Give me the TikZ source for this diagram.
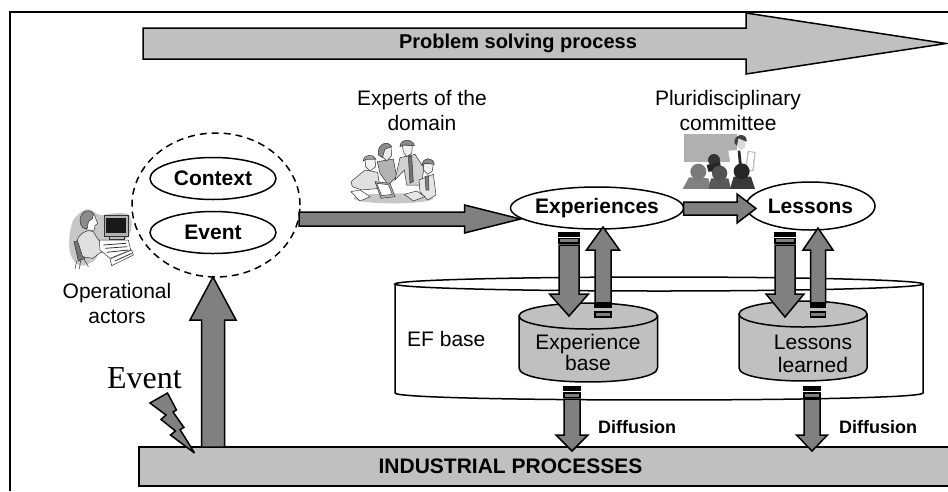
\documentclass[tikz,border=0pt]{standalone}
\usepackage{fontspec}
\setmainfont{Liberation Sans}
\newfontfamily\evfont{Liberation Serif}
\usetikzlibrary{shapes.geometric,calc}
\definecolor{darkfill}{HTML}{808080}
\definecolor{lightfill}{HTML}{C0C0C0}
\tikzset{
  x=1pt,y=-1pt,
  outline/.style={draw=black,line width=1.5pt},
  blockarrow/.style={outline,fill=darkfill},
  oval/.style={ellipse,outline,fill=white,inner sep=0pt,outer sep=0pt,font=\fontsize{21}{25}\selectfont\bfseries},
  reg/.style={inner sep=0pt,align=center,font=\fontsize{21}{25}\selectfont},
  boldlbl/.style={inner sep=0pt,font=\fontsize{18}{22}\selectfont\bfseries},
  sketch/.style={draw=black!80,line width=.5pt},
}
% optional style, tail, tip, half body, half head, head length
\newcommand{\blk}[6][]{%
  \coordinate (hb) at ($(#3)!#6pt!(#2)$);
  \draw[blockarrow,#1] ($(#2)!#4pt!90:(#3)$) -- ($(hb)!#4pt!90:(#3)$) -- ($(hb)!#5pt!90:(#3)$) -- (#3)
    -- ($(hb)!#5pt!-90:(#3)$) -- ($(hb)!#4pt!-90:(#3)$) -- ($(#2)!#4pt!-90:(#3)$) -- cycle;
}
% centre x, half width, black top, black bottom, grey top, grey bottom
\newcommand{\bands}[6]{%
  \fill[black] ({#1-#2-.8},#3) rectangle ({#1+#2+.8},#4);
  \draw[outline,fill=darkfill,line width=1.3pt] ({#1-#2},#5) rectangle ({#1+#2},#6);
}
% x1, x2, y of top centre, y of side bottom, top ry, bottom ry, fill
\newcommand{\cyl}[7]{%
  \draw[outline,fill=#7] (#1,#3) -- (#1,#4)
    .. controls (#1,{#4+#6*1.33}) and (#2,{#4+#6*1.33}) .. (#2,#4) -- (#2,#3) -- cycle;
  \draw[outline,fill=#7] ({(#1+#2)/2},#3) ellipse [x radius={(#2-#1)/2},y radius=#5];
}
\begin{document}
\begin{tikzpicture}
\useasboundingbox (0,0) rectangle (948,491);
\fill[white] (0,0) rectangle (948,491);
% frame
\coordinate (fa) at (10,491); \coordinate (fb) at (10,12); \coordinate (fc) at (948,12);
\draw[line width=1.5pt] (fa) -- (fb) -- (fc);
% top arrow
\coordinate (ta) at (143,43.5); \coordinate (tb) at (946,43.5);
\blk[fill=lightfill]{ta}{tb}{15.5}{30.5}{200}
\node[boldlbl,font=\fontsize{20}{24}\selectfont\bfseries] (psp) at (518,43) {Problem solving process};
% EF base
\cyl{395}{923}{284}{393}{7}{7}{white}
\node[reg,anchor=west] (efb) at (407,339) {EF base};
% inner cylinders
\cyl{519}{657.5}{316}{368}{13}{14}{lightfill}
\cyl{739}{867}{314}{368}{13}{13}{lightfill}
\node[reg,font=\fontsize{21}{21.5}\selectfont] (ebase) at (588,352.5) {Experience\\base};
\node[reg,font=\fontsize{21}{23}\selectfont] (lbase) at (813,353.5) {Lessons\\learned};
% dashed group and ovals
\node[ellipse,draw=black,line width=1.5pt,dash pattern=on 7pt off 5pt,minimum width=168pt,minimum height=144pt,inner sep=0pt,outer sep=0pt] (group) at (216,205) {};
\node[oval,minimum width=126pt,minimum height=42pt] (ctx) at (213,178.5) {\makebox[0pt]{Context}};
\node[oval,minimum width=126pt,minimum height=42pt] (evt) at (213,232.5) {\makebox[0pt]{Event}};
\node[oval,minimum width=173pt,minimum height=42pt] (exp) at (597,208) {\makebox[0pt]{Experiences}};
\node[oval,minimum width=129pt,minimum height=48pt] (les) at (810.5,206) {\makebox[0pt]{Lessons}};
% bar
\node[outline,line width=1.3pt,fill=lightfill,minimum width=810pt,minimum height=39pt,inner sep=0pt,outer sep=0pt] (bar) at (544,466.5) {};
\node[inner sep=0pt,font=\fontsize{21}{25}\selectfont\bfseries] (barlbl) at (510.5,466) {INDUSTRIAL PROCESSES};
% big arrows
\coordinate (ua) at ($(bar.north west)+(74,0)$); \coordinate (ub) at ($(group.south)+(-3,0)$);
\coordinate (ua2) at (ub |- ua);
\blk{ua2}{ub}{11.5}{23}{43}
\coordinate (ma) at ($(group.east)+(-1,14)$); \coordinate (mb) at ($(exp.west)+(10,11)$);
\blk{ma}{mb}{7}{14}{56}
\coordinate (xa) at ($(exp.east)+(0,0.5)$); \coordinate (xb) at ($(les.west)+(10,2.5)$);
\blk{xa}{xb}{6.5}{14.5}{19}
% exchange arrows
\coordinate (d1a) at (569,245); \coordinate (d1b) at (569,316);
\blk{d1a}{d1b}{10}{19.5}{22}
\bands{569}{10}{232}{237}{238.5}{243}
\coordinate (u1a) at (603,303); \coordinate (u1b) at (603,227);
\blk{u1a}{u1b}{8}{16.5}{23}
\bands{603}{8}{302}{307.5}{312}{317}
\coordinate (d2a) at (785,245); \coordinate (d2b) at (785,317);
\blk{d2a}{d2b}{10}{19}{23}
\bands{785}{10}{232}{237}{238.5}{243}
\coordinate (u2a) at (818,303); \coordinate (u2b) at (818,228);
\blk{u2a}{u2b}{7.5}{15}{22}
\bands{818}{7.5}{302}{307.5}{312}{317}
% diffusion
\coordinate (f1a) at (572,399); \coordinate (f1b) at (572,451);
\blk{f1a}{f1b}{8}{16}{16}
\bands{572}{8}{386}{391}{393}{397.5}
\coordinate (f2a) at (812,399); \coordinate (f2b) at (812,451);
\blk{f2a}{f2b}{8}{15.5}{16}
\bands{812}{8}{386}{391}{393}{397.5}
\node[boldlbl,anchor=west] (dif1) at (598,427) {Diffusion};
\node[boldlbl,anchor=west] (dif2) at (839,427) {Diffusion};
% labels
\node[reg] (opa) at (117,303) {Operational\\actors};
\node[reg] (edom) at (422,110.5) {Experts of the\\domain};
\node[reg] (pcom) at (728,110.5) {Pluridisciplinary\\committee};
\node[inner sep=0pt,font=\fontsize{32}{36}\selectfont\evfont] (evl) at (144.5,378) {Event};
% lightning
\draw[blockarrow,line width=1.5pt,miter limit=4] (150,403) -- (167.5,393) -- (176.5,410) -- (173,412) -- (184,427.5) -- (180,429.5) -- (194.5,453) -- (170.5,435) -- (175.5,431) -- (161,419.5) -- (166,415) -- cycle;
% operational actor clipart
\begin{scope}[shift={(60,195)},x=.3333pt,y=-.3333pt]
  \fill[black!22] plot[smooth cycle] coordinates {(28,130)(40,75)(80,42)(120,60)(160,55)(205,58)(215,90)(200,130)(130,150)(105,195)(60,212)(32,180)};
  \draw[sketch,fill=black!55] (42,140) -- (62,135) -- (75,190) -- (55,198) -- cycle;
  \draw[sketch] (50,198) -- (45,222) (62,196) -- (58,222) (72,192) -- (85,215);
  \draw[sketch,fill=black!12] (52,135) .. controls (58,115) and (85,100) .. (100,110) -- (112,130) -- (140,165) -- (118,175) -- (98,190) -- (68,185) -- cycle;
  \draw[sketch,fill=white] (75,60) -- (102,58) -- (113,85) -- (105,92) -- (103,105) -- (80,105) -- cycle;
  \draw[sketch,fill=black!45] (100,55) .. controls (85,38) and (62,50) .. (60,75) .. controls (60,95) and (72,105) .. (82,100) -- (85,80) -- (98,70) -- cycle;
  \draw[sketch,line width=.8pt,fill=black!30] (132,60) rectangle (206,125);
  \fill[black!90] (138,68) rectangle (198,113);
  \draw[sketch,fill=black!25] (148,125) rectangle (192,132);
  \draw[sketch,fill=white] (118,135) -- (205,135) -- (212,165) -- (150,190) -- (120,165) -- cycle;
  \draw[sketch,fill=white] (150,192) -- (215,165) -- (220,180) -- (155,212) -- cycle;
  \draw[sketch,line width=.8pt] (130,150) -- (198,145) (135,160) -- (202,155) (140,172) -- (205,165) (165,198) -- (215,175);
\end{scope}
% experts clipart
\begin{scope}[shift={(345,135)},x=.3333pt,y=-.3333pt]
  \fill[black!22] (145,190) ellipse [x radius=120,y radius=15];
  \draw[sketch,fill=black!30] (97,80) -- (145,72) -- (155,125) -- (130,150) -- (105,115) -- cycle;
  \draw[sketch,fill=black!8] (118,35) -- (138,35) -- (140,62) -- (125,78) -- (112,65) -- cycle;
  \draw[sketch,fill=black!45] (100,60) .. controls (95,25) and (130,15) .. (140,35) -- (120,42) -- (112,68) -- cycle;
  \draw[sketch,fill=black!18] (150,135) -- (165,68) -- (210,58) -- (237,100) -- (228,150) -- (185,150) -- (178,105) -- cycle;
  \draw[sketch,fill=black!55] (190,65) -- (200,62) -- (205,140) -- (195,145) -- cycle;
  \draw[sketch,fill=black!5] (172,30) -- (202,30) -- (200,55) -- (185,65) -- (175,50) -- cycle;
  \draw[sketch,fill=black!45] (165,35) .. controls (165,10) and (205,10) .. (208,32) -- (175,30) -- cycle;
  \draw[sketch,fill=black!12] (18,140) -- (60,105) -- (98,112) -- (105,160) -- (50,165) -- (22,155) -- cycle;
  \draw[sketch,fill=black!5] (60,72) -- (90,72) -- (92,95) -- (75,108) -- (62,95) -- cycle;
  \draw[sketch,fill=black!35] (55,78) .. controls (55,58) and (85,55) .. (92,72) -- (65,72) -- cycle;
  \draw[sketch,fill=black!10] (222,135) -- (265,118) -- (273,180) -- (248,195) -- (225,170) -- cycle;
  \draw[sketch,fill=black!50] (240,125) -- (250,122) -- (252,165) -- (243,165) -- cycle;
  \draw[sketch,fill=black!5] (235,85) -- (265,85) -- (262,108) -- (248,118) -- (236,105) -- cycle;
  \draw[sketch,fill=black!45] (232,90) .. controls (232,65) and (265,65) .. (268,88) -- (240,85) -- cycle;
  \draw[sketch,fill=white] (18,170) -- (45,165) -- (75,185) -- (45,198) -- cycle;
  \draw[sketch,fill=black!30] (90,140) -- (135,145) -- (150,185) -- (108,190) -- cycle;
  \draw[sketch,fill=white] (95,145) -- (130,149) -- (142,178) -- (110,182) -- cycle;
  \draw[sketch,fill=black!10] (178,178) -- (215,168) -- (240,185) -- (205,198) -- cycle;
\end{scope}
% committee clipart
\begin{scope}[shift={(675,130)},x=.3333pt,y=-.3333pt]
  \fill[black!31] (27,12) rectangle (185,95);
  \fill[white] (160,62) -- (225,58) -- (228,132) -- (172,132) -- cycle;
  \fill[black!25] (218,62) -- (242,66) -- (236,124) -- (210,122) -- cycle;
  \fill[white] (222,66) -- (238,69) -- (232,120) -- (214,118) -- cycle;
  \fill[black!85] (188,62) -- (196,62) -- (200,100) -- (192,105) -- cycle;
  \fill[black!15] (186,28) -- (212,28) -- (210,52) -- (198,60) -- (188,50) -- cycle;
  \fill[black!75] (178,38) .. controls (178,8) and (218,8) .. (215,35) -- (190,25) -- (186,48) -- cycle;
  \fill[black!80] (117,90) circle [radius=18];
  \fill[black!85] (95,105) -- (135,95) -- (140,125) -- (100,125) -- cycle;
  \fill[black!50] (23,177) -- (42,142) -- (100,145) -- (110,177) -- cycle;
  \fill[black!52] (70,125) circle [radius=24];
  \fill[black!65] (100,177) -- (108,145) -- (160,145) -- (168,177) -- cycle;
  \fill[black!68] (134,130) circle [radius=23];
  \fill[black!78] (165,177) -- (176,140) -- (228,140) -- (240,177) -- cycle;
  \fill[black!85] (200,124) circle [radius=24];
\end{scope}
\end{tikzpicture}
\end{document}
